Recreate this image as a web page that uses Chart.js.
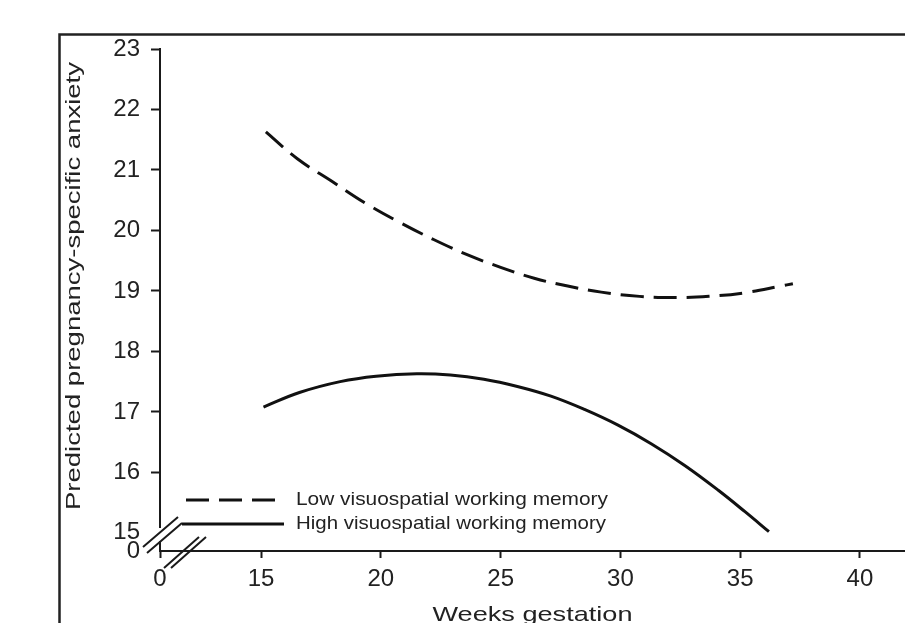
<!DOCTYPE html>
<html>
<head>
<meta charset="utf-8">
<script src="https://cdn.jsdelivr.net/npm/chart.js@4.4.1/dist/chart.umd.min.js"></script>
<style>
  html, body { margin: 0; padding: 0; background: #fff; }
  #wrap { width: 905px; height: 623px; position: relative; }
</style>
</head>
<body>
<div id="wrap"><canvas id="anxietyChart"></canvas></div>
<script>
// values
const lowWeeks = [15.2, 16.5, 18.0, 19.4, 20.8, 22.2, 23.6, 25.0, 26.4, 27.8, 29.2, 30.8, 32.3, 33.7, 35.2, 36.7, 37.2];
const lowAnxiety = [21.63, 21.19, 20.80, 20.44, 20.13, 19.85, 19.60, 19.39, 19.21, 19.08, 18.98, 18.91, 18.89, 18.91, 18.97, 19.08, 19.12];
const highWeeks = [15.1, 16.6, 18.3, 19.8, 21.5, 22.9, 24.3, 25.7, 27.1, 28.5, 29.9, 31.3, 32.7, 34.1, 35.2, 36.2];
const highAnxiety = [17.08, 17.32, 17.50, 17.59, 17.63, 17.61, 17.54, 17.42, 17.26, 17.04, 16.78, 16.47, 16.11, 15.70, 15.35, 15.02];

const xTicks = [15, 20, 25, 30, 35, 40];
const yTicks = [15, 16, 17, 18, 19, 20, 21, 22, 23];
const seriesLabels = ["Low visuospatial working memory", "High visuospatial working memory"];
const xTitle = "Weeks gestation";
const yTitle = "Predicted pregnancy-specific anxiety";

// broken axes: the "0" sits just before the break
const X_ZERO = 10.78, X_MAX = 41.88;
const Y_ZERO = 14.7, Y_MAX = 23;

const FONT = "'Liberation Sans', Arial, sans-serif";
const INK = "#1a1a1a";

function pairs(xs, ys) {
  return xs.map((x, i) => ({ x: x, y: ys[i] }));
}

// text squeezed/stretched to a given length
function stretchedText(ctx, text, cx, cy, size, length, rotate) {
  ctx.save();
  ctx.font = size + "px " + FONT;
  ctx.fillStyle = "#222";
  ctx.textAlign = "center";
  ctx.textBaseline = "middle";
  const w = ctx.measureText(text).width;
  ctx.translate(cx, cy);
  if (rotate) ctx.rotate(-Math.PI / 2);
  ctx.scale(length / w, 1);
  ctx.fillText(text, 0, 0);
  ctx.restore();
}

const decor = {
  id: "decor",
  beforeDraw(chart) {
    const ctx = chart.ctx;
    ctx.save();
    ctx.fillStyle = "#fff";
    ctx.fillRect(0, 0, chart.width, chart.height);
    ctx.strokeStyle = "#222";
    ctx.lineWidth = 2.5;
    ctx.strokeRect(59.5, 34.5, 1000, 1000);
    ctx.restore();
  },
  afterDraw(chart) {
    const ctx = chart.ctx;
    const area = chart.chartArea;

    // gap + break marks on the y axis
    ctx.save();
    ctx.fillStyle = "#fff";
    ctx.fillRect(area.left - 3, 528, 6, 13);
    ctx.strokeStyle = INK;
    ctx.lineWidth = 2;
    ctx.beginPath();
    ctx.moveTo(143, 547); ctx.lineTo(178, 517);
    ctx.moveTo(147, 553); ctx.lineTo(182, 523);
    // break marks on the x axis
    ctx.moveTo(164, 568); ctx.lineTo(199, 537);
    ctx.moveTo(171, 568); ctx.lineTo(206, 537);
    ctx.stroke();

    // legend inside the plot
    const rows = [500, 524];
    chart.data.datasets.forEach((ds, i) => {
      const y = rows[i];
      ctx.beginPath();
      ctx.setLineDash(ds.borderDash || []);
      ctx.lineWidth = 3;
      ctx.strokeStyle = ds.borderColor;
      ctx.moveTo(i === 0 ? 186 : 182, y);
      ctx.lineTo(i === 0 ? 278 : 284, y);
      ctx.stroke();
      ctx.setLineDash([]);
      ctx.font = "19px " + FONT;
      ctx.fillStyle = "#222";
      ctx.textAlign = "left";
      ctx.textBaseline = "middle";
      const w = ctx.measureText(ds.label).width;
      ctx.save();
      ctx.translate(296, y);
      ctx.scale((i === 0 ? 312 : 310) / w, 1);
      ctx.fillText(ds.label, 0, 0);
      ctx.restore();
    });
    ctx.restore();

    stretchedText(ctx, yTitle, 74, 286, 21, 448, true);
    stretchedText(ctx, xTitle, (area.left + area.right) / 2, 615, 21, 200, false);
  }
};

const tickInk = (c) => (c.tick && c.tick.value < 15.5) ? "rgba(0,0,0,0)" : INK;

new Chart(document.getElementById("anxietyChart"), {
  type: "scatter",
  data: {
    datasets: [
      {
        label: seriesLabels[0],
        data: pairs(lowWeeks, lowAnxiety),
        showLine: true,
        borderColor: "#111",
        borderWidth: 3,
        borderDash: [23, 10],
        pointRadius: 0,
        tension: 0.4,
      },
      {
        label: seriesLabels[1],
        data: pairs(highWeeks, highAnxiety),
        showLine: true,
        borderColor: "#111",
        borderWidth: 3,
        pointRadius: 0,
        tension: 0.4,
      },
    ],
  },
  options: {
    responsive: true,
    maintainAspectRatio: false,
    animation: false,
    layout: { padding: { left: 0, top: 49, right: 0, bottom: 0 } },
    plugins: {
      legend: { display: false },
      tooltip: { enabled: false },
    },
    scales: {
      x: {
        type: "linear",
        min: X_ZERO,
        max: X_MAX,
        afterBuildTicks: (s) => { s.ticks = [X_ZERO].concat(xTicks).map((v) => ({ value: v })); },
        afterFit: (s) => { s.height = 72; },
        ticks: {
          autoSkip: false,
          maxRotation: 0,
          padding: 7,
          color: "#222",
          font: { family: FONT, size: 24 },
          callback: (v) => (v === X_ZERO ? "0" : String(v)),
        },
        grid: { display: true, drawOnChartArea: false, drawTicks: true, tickLength: 7, tickWidth: 2, tickColor: INK },
        border: { display: true, color: INK, width: 2 },
      },
      y: {
        type: "linear",
        min: Y_ZERO,
        max: Y_MAX,
        afterBuildTicks: (s) => { s.ticks = [Y_ZERO].concat(yTicks).map((v) => ({ value: v })); },
        afterFit: (s) => { s.width = 160; },
        ticks: {
          autoSkip: false,
          padding: 11,
          color: "#222",
          font: { family: FONT, size: 24 },
          callback: (v) => (v === Y_ZERO ? "0" : String(v)),
        },
        grid: { display: true, drawOnChartArea: false, drawTicks: true, tickLength: 9, tickWidth: 2, tickColor: tickInk },
        border: { display: true, color: INK, width: 2 },
      },
    },
  },
  plugins: [decor],
});
</script>
</body>
</html>
